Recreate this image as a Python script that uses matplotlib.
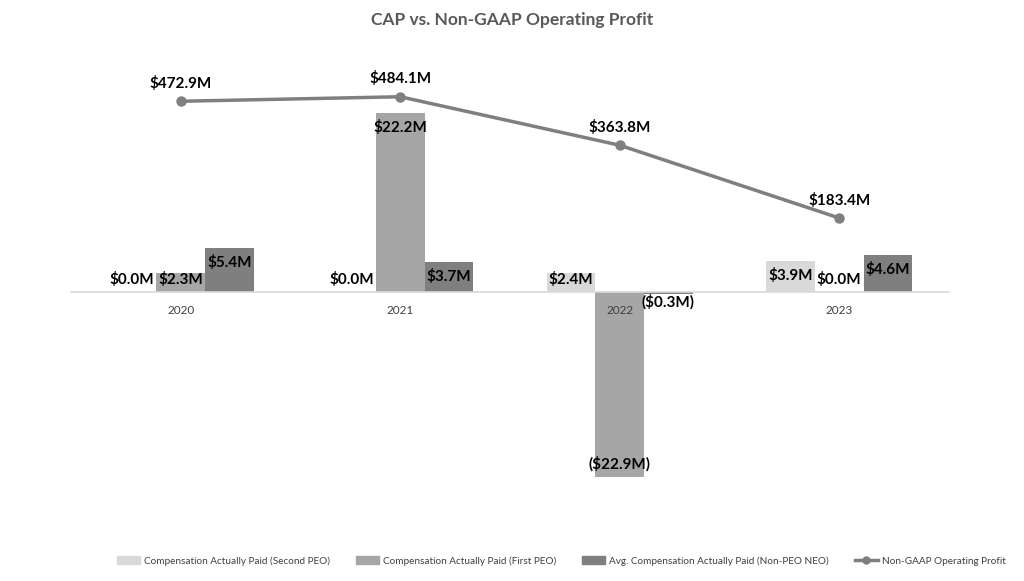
import numpy as np
import matplotlib
matplotlib.use("Agg")
import matplotlib.pyplot as plt
from matplotlib.lines import Line2D
from matplotlib.patches import Patch

plt.rcParams['font.family'] = ['Lato', 'DejaVu Sans']

# ---------- datos ----------
years = ["2020", "2021", "2022", "2023"]
cap_second_peo = [0.0, 0.0, 2.4, 3.9]
cap_first_peo = [2.3, 22.2, -22.9, 0.0]
cap_neo = [5.4, 3.7, -0.3, 4.6]
op_profit = [472.9, 484.1, 363.8, 183.4]

series_names = ["Compensation Actually Paid (Second PEO)",
                "Compensation Actually Paid (First PEO)",
                "Avg. Compensation Actually Paid (Non-PEO NEO)"]
line_name = "Non-GAAP Operating Profit"

c_light, c_mid, c_dark = "#d9d9d9", "#a6a6a6", "#7f7f7f"
c_line = "#7f7f7f"

def fmt(v):
    return f"(${abs(v):.1f}M)" if v < 0 else f"${v:.1f}M"

fig = plt.figure(figsize=(10.24, 5.81), dpi=100)
ax = fig.add_axes([71/1024, 47/581, 878/1024, 484/581])
x = np.arange(len(years))
w = 0.221

for off, vals, col in zip([-1, 0, 1], [cap_second_peo, cap_first_peo, cap_neo],
                          [c_light, c_mid, c_dark]):
    ax.bar(x + off * w, vals, width=w, color=col, zorder=1)
    for xi, v in zip(x + off * w, vals):
        if v < 0:
            yl = min(v + 1.6, -1.2)
        else:
            yl = max(v - 1.8, 1.5)
        ax.text(xi, yl, fmt(v), ha="center", va="center", fontsize=11,
                fontweight="bold", color="black", zorder=5)

ax.set_xlim(-0.5, 3.5)
ax.set_ylim(-30, 30)
for s in ["top", "right", "left"]:
    ax.spines[s].set_visible(False)
ax.spines["bottom"].set_position(("data", 0))
ax.spines["bottom"].set_color("#d9d9d9")
ax.spines["bottom"].set_linewidth(1.2)
ax.set_yticks([])
ax.set_xticks(x)
ax.set_xticklabels(years, fontsize=8.5, color="#404040")
ax.tick_params(axis="x", length=0, pad=9)

ax2 = ax.twinx()
ax2.set_ylim(-600, 600)
ax2.plot(x, op_profit, color=c_line, lw=2.5, marker="o", ms=6.5, zorder=3)
for xi, v in zip(x, op_profit):
    ax2.text(xi, v + 44, fmt(v), ha="center", va="center", fontsize=11,
             fontweight="bold", color="black")
ax2.set_yticks([])
for s in ax2.spines.values():
    s.set_visible(False)

fig.text(0.5, 1 - 20/581, "CAP vs. Non-GAAP Operating Profit", ha="center",
         va="center", fontsize=12.5, fontweight="bold", color="#595959")

handles = [Patch(color=c_light), Patch(color=c_mid), Patch(color=c_dark),
           Line2D([], [], color=c_line, lw=2.5, marker="o", ms=5)]
fig.legend(handles, series_names + [line_name], loc="center",
           bbox_to_anchor=(561/1024, 1 - 561/581), ncol=4, frameon=False,
           fontsize=7.2, labelcolor="#404040", handlelength=2.3,
           handleheight=0.8, handletextpad=0.4, columnspacing=2.6)

fig.savefig("out.png", dpi=100)
